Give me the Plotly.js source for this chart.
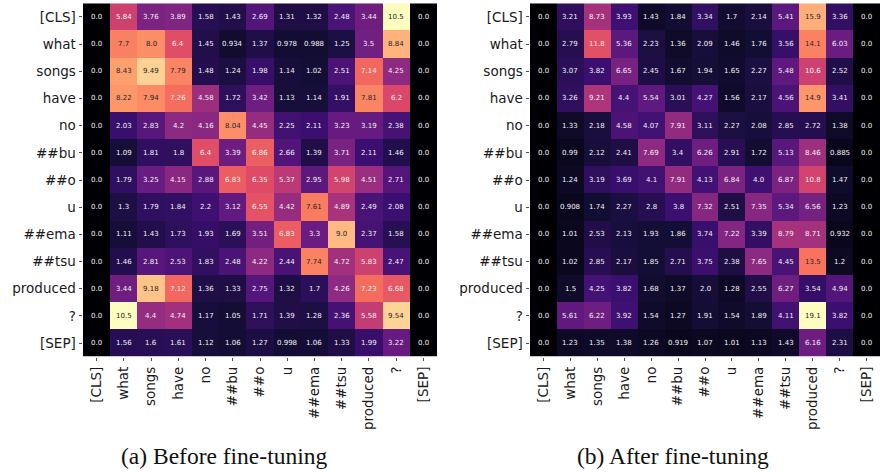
<!DOCTYPE html>
<html><head><meta charset="utf-8">
<script src="https://cdn.plot.ly/plotly-3.0.1.min.js"></script>
<style>html,body{margin:0;padding:0;background:#fff}#chart{width:881px;height:474px}</style>
</head><body><div id="chart"></div><script>
const tokens = ['[CLS]','what','songs','have','no','##bu','##o','u','##ema','##tsu','produced','?','[SEP]'];

const beforeFT = [
  [0.0, 5.84, 3.76, 3.89, 1.58, 1.43, 2.69, 1.31, 1.32, 2.48, 3.44, 10.5, 0.0],
  [0.0, 7.7, 8.0, 6.4, 1.45, 0.934, 1.37, 0.978, 0.988, 1.25, 3.5, 8.84, 0.0],
  [0.0, 8.43, 9.49, 7.79, 1.48, 1.24, 1.98, 1.14, 1.02, 2.51, 7.14, 4.25, 0.0],
  [0.0, 8.22, 7.94, 7.26, 4.58, 1.72, 3.42, 1.13, 1.14, 1.91, 7.81, 6.2, 0.0],
  [0.0, 2.03, 2.83, 4.2, 4.16, 8.04, 4.45, 2.25, 2.11, 3.23, 3.19, 2.38, 0.0],
  [0.0, 1.09, 1.81, 1.8, 6.4, 3.39, 6.86, 2.66, 1.39, 3.71, 2.11, 1.46, 0.0],
  [0.0, 1.79, 3.25, 4.15, 2.88, 6.83, 6.35, 5.37, 2.95, 5.98, 4.51, 2.71, 0.0],
  [0.0, 1.3, 1.79, 1.84, 2.2, 3.12, 6.55, 4.42, 7.61, 4.89, 2.49, 2.08, 0.0],
  [0.0, 1.11, 1.43, 1.73, 1.93, 1.69, 3.51, 6.83, 3.3, 9.0, 2.37, 1.58, 0.0],
  [0.0, 1.46, 2.81, 2.53, 1.83, 2.48, 4.22, 2.44, 7.74, 4.72, 5.83, 2.47, 0.0],
  [0.0, 3.44, 9.18, 7.12, 1.36, 1.33, 2.75, 1.32, 1.7, 4.26, 7.23, 6.68, 0.0],
  [0.0, 10.5, 4.4, 4.74, 1.17, 1.05, 1.71, 1.39, 1.28, 2.36, 5.58, 9.54, 0.0],
  [0.0, 1.56, 1.6, 1.61, 1.12, 1.06, 1.27, 0.998, 1.06, 1.33, 1.99, 3.22, 0.0]
];

const afterFT = [
  [0.0, 3.21, 8.73, 3.93, 1.43, 1.84, 3.34, 1.7, 2.14, 5.41, 15.9, 3.36, 0.0],
  [0.0, 2.79, 11.8, 5.36, 2.23, 1.36, 2.09, 1.46, 1.76, 3.56, 14.1, 6.03, 0.0],
  [0.0, 3.07, 3.82, 6.65, 2.45, 1.67, 1.94, 1.65, 2.27, 5.48, 10.6, 2.52, 0.0],
  [0.0, 3.26, 9.21, 4.4, 5.54, 3.01, 4.27, 1.56, 2.17, 4.56, 14.9, 3.41, 0.0],
  [0.0, 1.33, 2.18, 4.58, 4.07, 7.91, 3.11, 2.27, 2.08, 2.85, 2.72, 1.38, 0.0],
  [0.0, 0.99, 2.12, 2.41, 7.69, 3.4, 6.26, 2.91, 1.72, 5.13, 8.46, 0.885, 0.0],
  [0.0, 1.24, 3.19, 3.69, 4.1, 7.91, 4.13, 6.84, 4.0, 6.87, 10.8, 1.47, 0.0],
  [0.0, 0.908, 1.74, 2.27, 2.8, 3.8, 7.32, 2.51, 7.35, 5.34, 6.56, 1.23, 0.0],
  [0.0, 1.01, 2.53, 2.13, 1.93, 1.86, 3.74, 7.22, 3.39, 8.79, 8.71, 0.932, 0.0],
  [0.0, 1.02, 2.85, 2.17, 1.85, 2.71, 3.75, 2.38, 7.65, 4.45, 13.5, 1.2, 0.0],
  [0.0, 1.5, 4.25, 3.82, 1.68, 1.37, 2.0, 1.28, 2.55, 6.27, 3.54, 4.94, 0.0],
  [0.0, 5.61, 6.22, 3.92, 1.54, 1.27, 1.91, 1.54, 1.89, 4.11, 19.1, 3.82, 0.0],
  [0.0, 1.23, 1.35, 1.38, 1.26, 0.919, 1.07, 1.01, 1.13, 1.43, 6.16, 2.31, 0.0]
];

const captionBefore = '(a) Before fine-tuning';
const captionAfter = '(b) After fine-tuning';

const magma = [
  [0.0,'#000004'],[0.1,'#140e36'],[0.2,'#3b0f70'],[0.3,'#641a80'],[0.4,'#8c2981'],
  [0.5,'#b73779'],[0.6,'#de4968'],[0.7,'#f7705c'],[0.8,'#fe9f6d'],[0.9,'#fecf92'],[1.0,'#fcfdbf']
];

function fmt(v){ return Number.isInteger(v) ? v.toFixed(1) : String(v); }
function maxOf(m){ return Math.max(...m.map(r => Math.max(...r))); }

const maxB = maxOf(beforeFT), maxA = maxOf(afterFT);
const FAM = '"DejaVu Sans", "Bitstream Vera Sans", Verdana, sans-serif';

const annotations = [];
function addCellText(m, mx, xr, yr){
  m.forEach((row, i) => row.forEach((v, j) => {
    annotations.push({
      xref: xr, yref: yr, x: tokens[j], y: tokens[i], text: fmt(v), showarrow: false,
      font: {family: FAM, size: 7, color: (v / mx > 0.7) ? '#262626' : '#f2f2f2'}
    });
  }));
}
addCellText(beforeFT, maxB, 'x', 'y');
addCellText(afterFT, maxA, 'x2', 'y2');

annotations.push({xref:'paper', yref:'paper', x: 224/881, y: (474-456)/474, xanchor:'center', yanchor:'middle',
  text: captionBefore, showarrow:false, font:{family:'Liberation Serif', size:23.5, color:'#111'}});
annotations.push({xref:'paper', yref:'paper', x: 673/881, y: (474-456)/474, xanchor:'center', yanchor:'middle',
  text: captionAfter, showarrow:false, font:{family:'Liberation Serif', size:23.5, color:'#111'}});

const traces = [
  {type:'heatmap', z: beforeFT, x: tokens, y: tokens, xaxis:'x', yaxis:'y', colorscale: magma,
   zmin: 0, zmax: maxB, showscale: false, hoverongaps:false},
  {type:'heatmap', z: afterFT, x: tokens, y: tokens, xaxis:'x2', yaxis:'y2', colorscale: magma,
   zmin: 0, zmax: maxA, showscale: false, hoverongaps:false}
];

const axBase = {
  type:'category', ticks:'outside', ticklen:3.5, tickwidth:0.8, tickcolor:'#262626',
  showgrid:false, zeroline:false, showline:false, automargin:false,
  tickfont:{family: FAM, size:13.5, color:'#1a1a1a'}
};
const yDom = [(474-356.7)/474, (474-3.3)/474];

const layout = {
  width: 881, height: 474, margin:{l:0,r:0,t:0,b:0}, paper_bgcolor:'#fff', plot_bgcolor:'#fff',
  showlegend:false, font:{family: FAM},
  xaxis: Object.assign({}, axBase, {domain:[83/881, 437/881], anchor:'y', tickangle:-90}),
  yaxis: Object.assign({}, axBase, {domain: yDom, anchor:'x', autorange:'reversed'}),
  xaxis2: Object.assign({}, axBase, {domain:[530/881, 880/881], anchor:'y2', tickangle:-90}),
  yaxis2: Object.assign({}, axBase, {domain: yDom, anchor:'x2', autorange:'reversed'}),
  annotations: annotations
};

Plotly.newPlot('chart', traces, layout, {displayModeBar:false, staticPlot:true});
</script></body></html>
